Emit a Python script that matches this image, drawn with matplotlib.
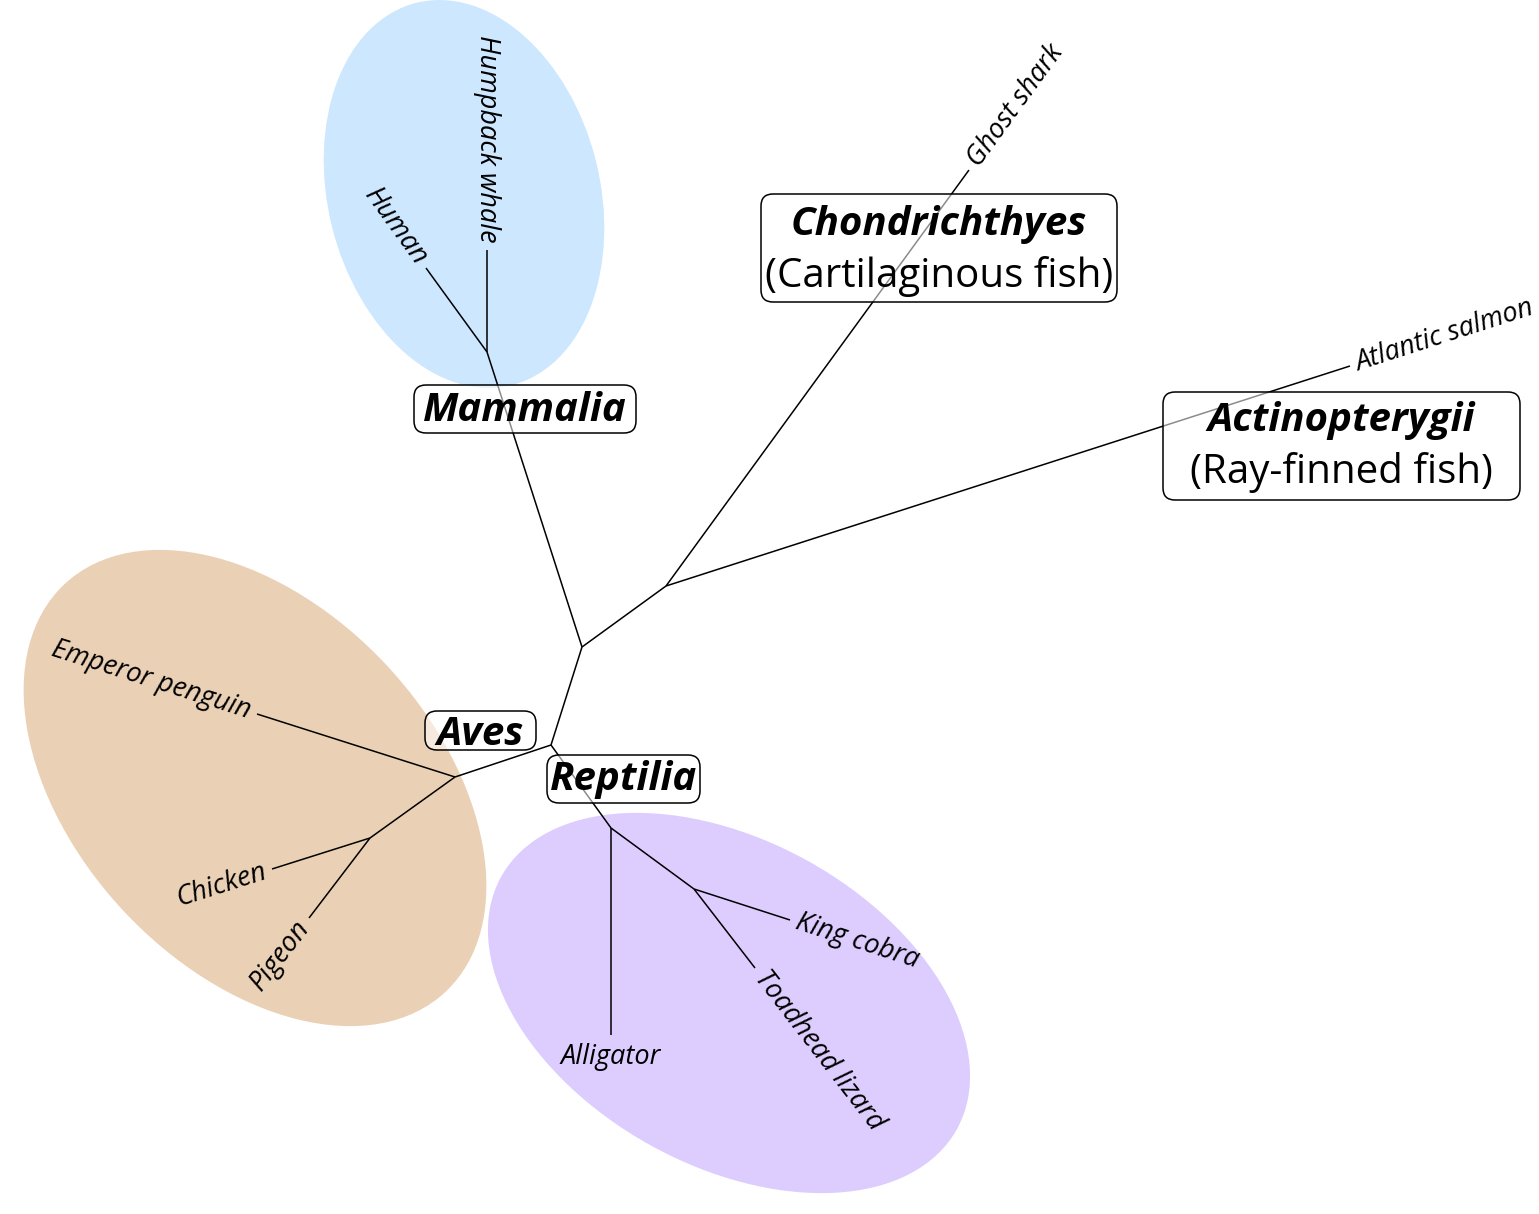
import math

import matplotlib

matplotlib.use("Agg")
import matplotlib.pyplot as plt
from matplotlib.patches import Ellipse, FancyBboxPatch

plt.rcParams["font.family"] = ["Open Sans", "Noto Sans", "DejaVu Sans"]

# tree nodes, in picture pixels (x to the right, y downward)
node_ids = [
    "centre", "fish", "sauropsids", "mammals", "birds", "pigeon_chicken",
    "reptiles", "squamates",
    "ghost_shark", "salmon", "human", "whale", "penguin", "chicken",
    "pigeon", "alligator", "cobra", "lizard",
]
node_x = [582, 666, 551, 487, 455, 370, 611, 694,
          969, 1350, 426, 487, 257, 272, 309, 611, 790, 755]
node_y = [647, 586, 745, 352, 777, 838, 828, 889,
          170, 366, 268, 250, 714, 869, 918, 1035, 920, 968]

edges = [
    ("centre", "mammals"), ("centre", "fish"), ("centre", "sauropsids"),
    ("fish", "ghost_shark"), ("fish", "salmon"),
    ("mammals", "human"), ("mammals", "whale"),
    ("sauropsids", "birds"), ("sauropsids", "reptiles"),
    ("birds", "penguin"), ("birds", "pigeon_chicken"),
    ("pigeon_chicken", "chicken"), ("pigeon_chicken", "pigeon"),
    ("reptiles", "alligator"), ("reptiles", "squamates"),
    ("squamates", "cobra"), ("squamates", "lizard"),
]

leaf_ids = ["ghost_shark", "salmon", "human", "whale", "penguin", "chicken",
            "pigeon", "alligator", "cobra", "lizard"]
leaf_labels = ["Ghost shark", "Atlantic salmon", "Human", "Humpback whale",
               "Emperor penguin", "Chicken", "Pigeon", "Alligator",
               "King cobra", "Toadhead lizard"]

group_names = ["Mammalia", "Aves", "Reptilia", "Chondrichthyes", "Actinopterygii"]
group_common = ["", "", "", "(Cartilaginous fish)", "(Ray-finned fish)"]

# layout of the coloured clade areas: centre, width, height, tilt
clade_regions = [
    ((464, 194), 394, 272, 76, "#cce7fe"),
    ((255, 788), 558, 360, 47, "#ead1b5"),
    ((729, 1003), 521, 325, 29, "#ddcdfe"),
]
# label boxes: left, top, right, bottom, first baseline
group_boxes = [
    (414, 385, 636, 433, 421),
    (425, 711, 536, 750, 745),
    (547, 755, 700, 803, 790),
    (761, 194, 1117, 302, 235),
    (1163, 392, 1520, 500, 431),
]

W, H = 1539, 1214
fig = plt.figure(figsize=(W / 100, H / 100), dpi=100)
ax = fig.add_axes([0, 0, 1, 1])
ax.set_xlim(0, W)
ax.set_ylim(H, 0)
ax.set_aspect("equal")
ax.axis("off")

for (cx, cy), w, h, ang, col in clade_regions:
    ax.add_patch(Ellipse((cx, cy), w, h, angle=ang, facecolor=col,
                         edgecolor="none", zorder=1))

pos = {n: (x, y) for n, x, y in zip(node_ids, node_x, node_y)}
parent_of = {}
for a, b in edges:
    (x0, y0), (x1, y1) = pos[a], pos[b]
    ax.plot([x0, x1], [y0, y1], color="black", lw=1.1,
            solid_capstyle="butt", zorder=2)
    parent_of[b] = a

# leaf names run along their branch, just past the tip
leaf_size = 19.5
gap = 7
for leaf, label in zip(leaf_ids, leaf_labels):
    tx, ty = pos[leaf]
    px, py = pos[parent_of[leaf]]
    if label == "Alligator":
        ax.text(tx, ty + 29, label, ha="center", va="baseline",
                fontsize=leaf_size, style="italic", zorder=3)
        continue
    dx, dy = tx - px, ty - py
    d = math.hypot(dx, dy)
    ux, uy = dx / d, dy / d
    angle = math.degrees(math.atan2(-dy, dx))
    if abs(angle) >= 90:
        rot, ha = angle - 180 if angle > 0 else angle + 180, "right"
    else:
        rot, ha = angle, "left"
    ax.text(tx + gap * ux, ty + gap * uy, label, rotation=rot,
            rotation_mode="anchor", ha=ha, va="center",
            fontsize=leaf_size, style="italic", zorder=3)

for name, common, (x0, y0, x1, y1, base) in zip(group_names, group_common, group_boxes):
    ax.add_patch(FancyBboxPatch((x0, y0), x1 - x0, y1 - y0,
                                boxstyle="round,pad=0,rounding_size=12",
                                facecolor=(1, 1, 1, 0.55), edgecolor="black",
                                lw=1.1, zorder=4))
    cx = (x0 + x1) / 2
    ax.text(cx, base, name, ha="center", va="baseline", fontsize=29,
            style="italic", weight="bold", zorder=5)
    if common:
        ax.text(cx, base + 52, common, ha="center", va="baseline",
                fontsize=29, zorder=5)

fig.savefig("out.png", dpi=100)
